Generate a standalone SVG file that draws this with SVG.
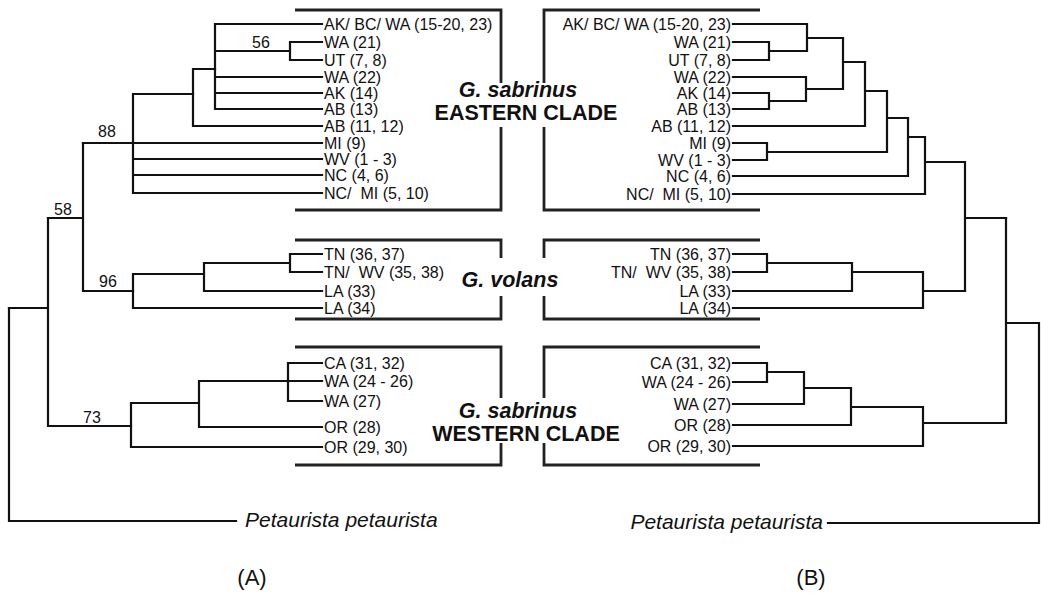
<svg xmlns="http://www.w3.org/2000/svg" width="1041" height="598" viewBox="0 0 1041 598">
<style>
.ln{fill:none;stroke:#111;stroke-width:2.2;stroke-linecap:square}
.bx{fill:none;stroke:#222;stroke-width:2.8}
.lf{font-family:"Liberation Sans",Arial,sans-serif;font-size:16px;fill:#111}
.lr{font-family:"Liberation Sans",Arial,sans-serif;font-size:16px;fill:#111;text-anchor:end}
.bs{font-family:"Liberation Sans",Arial,sans-serif;font-size:16px;fill:#111;text-anchor:middle}
.cl{font-family:"Liberation Sans",Arial,sans-serif;font-size:21.5px;font-weight:bold;fill:#111;text-anchor:middle}
.sp{font-family:"Liberation Sans",Arial,sans-serif;font-size:21.5px;font-weight:bold;font-style:italic;fill:#111;text-anchor:middle}
.pt{font-family:"Liberation Sans",Arial,sans-serif;font-size:21px;font-style:italic;fill:#111}
.pl{font-family:"Liberation Sans",Arial,sans-serif;font-size:22px;fill:#111;text-anchor:middle}
</style>
<g id="boxes">
<path class="bx" d="M295,10 H501 V83 M501,127 V210 H295"/>
<path class="bx" d="M760,10 H544 V83 M544,127 V210 H760"/>
<path class="bx" d="M295,240 H501 V258 M501,296 V319 H295"/>
<path class="bx" d="M760,240 H544 V258 M544,296 V319 H760"/>
<path class="bx" d="M295,347 H501 V398 M501,443 V465 H295"/>
<path class="bx" d="M760,347 H544 V398 M544,443 V465 H760"/>
</g>
<g id="clade-labels">
<text class="sp" x="518" y="97">G. sabrinus</text>
<text class="cl" x="526" y="120">EASTERN CLADE</text>
<text class="sp" x="510" y="287">G. volans</text>
<text class="sp" x="518" y="418">G. sabrinus</text>
<text class="cl" x="526" y="441">WESTERN CLADE</text>
</g>
<g id="connectors">
<!-- Tree A -->
<path class="ln" d="M215,24 V109 M215,24 H322 M215,51 H290 M290,42 V60 M290,42 H322 M290,60 H322 M215,77 H322 M215,93 H322 M215,109 H322"/>
<path class="ln" d="M193,69 V126 M193,69 H215 M193,126 H322"/>
<path class="ln" d="M133,94 V193 M133,94 H193 M83,143 H322 M133,159 H322 M133,175 H322 M133,193 H322"/>
<path class="ln" d="M83,143 V291 M48,218 H83 M83,291 H133"/>
<path class="ln" d="M133,274 V308 M133,274 H204 M204,263 V291 M204,263 H290 M290,254 V272 M290,254 H322 M290,272 H322 M204,291 H322 M133,308 H322"/>
<path class="ln" d="M48,218 V426 M9,308 H48 M48,426 H131"/>
<path class="ln" d="M131,403 V447 M131,403 H199 M131,447 H322 M199,381 V427 M199,381 H322 M199,427 H322 M288,363 V401 M288,363 H322 M288,401 H322"/>
<path class="ln" d="M9,308 V521 H236"/>
<!-- Tree B -->
<path class="ln" d="M733,42 H769 V60 H733 M769,51 H807 M733,24 H807 V51 M807,38 H843"/>
<path class="ln" d="M733,93 H769 V109 H733 M769,101 H806 M733,77 H806 V101 M806,89 H843 M843,38 V89 M843,62 H865"/>
<path class="ln" d="M865,62 V126 H733 M865,91 H887 M733,143 H767 V160 H733 M767,152 H887 M887,91 V152 M887,118 H908"/>
<path class="ln" d="M908,118 V176 H733 M908,137 H925 M925,137 V194 H733 M925,162 H965 M965,162 V291 M965,218 H1006"/>
<path class="ln" d="M733,254 H767 V272 H733 M767,263 H852 V291 H733 M852,272 H923 V308 H733 M923,291 H965"/>
<path class="ln" d="M733,363 H767 V382 H733 M767,372 H804 V404 H733 M804,388 H851 V425 H733 M851,407 H923 V446 H733 M923,423 H1006"/>
<path class="ln" d="M1006,218 V423 M1006,323 H1039 V523 H828"/>
</g>
<g id="support-values">
<text class="bs" x="261" y="48">56</text>
<text class="bs" x="107" y="137">88</text>
<text class="bs" x="63" y="215">58</text>
<text class="bs" x="108" y="287">96</text>
<text class="bs" x="92" y="423">73</text>
</g>
<g id="tree-A-leaves">
<text class="lf" x="324" y="29.5">AK/ BC/ WA (15-20, 23)</text>
<text class="lf" x="324" y="47.5">WA (21)</text>
<text class="lf" x="324" y="65.5">UT (7, 8)</text>
<text class="lf" x="324" y="82.5">WA (22)</text>
<text class="lf" x="324" y="98.5">AK (14)</text>
<text class="lf" x="324" y="114.5">AB (13)</text>
<text class="lf" x="324" y="131.5">AB (11, 12)</text>
<text class="lf" x="324" y="148.5">MI (9)</text>
<text class="lf" x="324" y="164.5">WV (1 - 3)</text>
<text class="lf" x="324" y="180.5">NC (4, 6)</text>
<text class="lf" x="324" y="198.5">NC/&#160; MI (5, 10)</text>
<text class="lf" x="324" y="259.5">TN (36, 37)</text>
<text class="lf" x="324" y="277.5">TN/&#160; WV (35, 38)</text>
<text class="lf" x="324" y="296.5">LA (33)</text>
<text class="lf" x="324" y="313.5">LA (34)</text>
<text class="lf" x="324" y="368.5">CA (31, 32)</text>
<text class="lf" x="324" y="386.5">WA (24 - 26)</text>
<text class="lf" x="324" y="406.5">WA (27)</text>
<text class="lf" x="324" y="432.5">OR (28)</text>
<text class="lf" x="324" y="452.5">OR (29, 30)</text>
<text class="pt" x="245" y="527">Petaurista petaurista</text>
<text class="pl" x="252" y="585">(A)</text>
</g>
<g id="tree-B-leaves">
<text class="lr" x="731" y="29.5">AK/ BC/ WA (15-20, 23)</text>
<text class="lr" x="731" y="47.5">WA (21)</text>
<text class="lr" x="731" y="65.5">UT (7, 8)</text>
<text class="lr" x="731" y="82.5">WA (22)</text>
<text class="lr" x="731" y="98.5">AK (14)</text>
<text class="lr" x="731" y="114.5">AB (13)</text>
<text class="lr" x="731" y="131.5">AB (11, 12)</text>
<text class="lr" x="731" y="148.5">MI (9)</text>
<text class="lr" x="731" y="165.5">WV (1 - 3)</text>
<text class="lr" x="731" y="181.5">NC (4, 6)</text>
<text class="lr" x="731" y="199.5">NC/&#160; MI (5, 10)</text>
<text class="lr" x="731" y="259.5">TN (36, 37)</text>
<text class="lr" x="731" y="277.5">TN/&#160; WV (35, 38)</text>
<text class="lr" x="731" y="296.5">LA (33)</text>
<text class="lr" x="731" y="313.5">LA (34)</text>
<text class="lr" x="731" y="368.5">CA (31, 32)</text>
<text class="lr" x="731" y="387.5">WA (24 - 26)</text>
<text class="lr" x="731" y="409.5">WA (27)</text>
<text class="lr" x="731" y="430.5">OR (28)</text>
<text class="lr" x="731" y="451.5">OR (29, 30)</text>
<text class="pt" x="823" y="529" text-anchor="end">Petaurista petaurista</text>
<text class="pl" x="811" y="585">(B)</text>
</g>
</svg>
